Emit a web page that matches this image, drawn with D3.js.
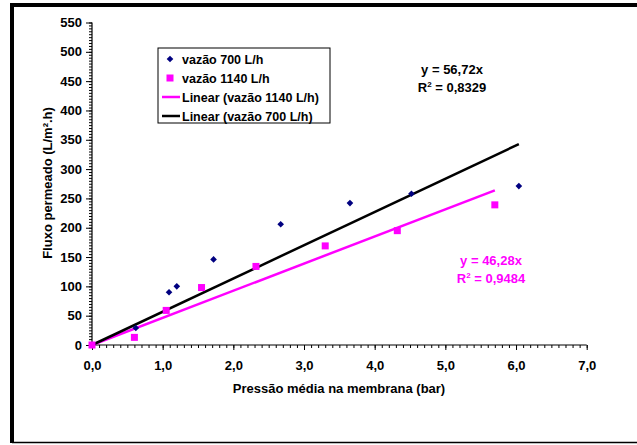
<!DOCTYPE html>
<html>
<head>
<meta charset="utf-8">
<script src="https://cdn.jsdelivr.net/npm/d3@7"></script>
<style>
  body { margin: 0; background: #fff; }
  svg { display: block; font-family: "Liberation Sans", Arial, sans-serif; font-weight: bold; }
  .axis path { display: none; }
  .axis text { font-size: 13px; font-weight: bold; fill: #000; }
</style>
</head>
<body>
<svg id="chart" width="637" height="445"></svg>
<script>
// data
var pressao700 = [0, 0.62, 1.09, 1.20, 1.72, 2.67, 3.65, 4.52, 6.04];
var fluxo700   = [0, 29, 90, 100, 146, 206, 242, 258, 271];
var pressao1140 = [0, 0.60, 1.05, 1.55, 2.32, 3.30, 4.32, 5.70];
var fluxo1140   = [0, 13, 59, 98, 134, 169, 195, 239];
var slope700 = 56.72, slope1140 = 46.28;
var xTicks = [0, 1, 2, 3, 4, 5, 6, 7];
var yTicks = [0, 50, 100, 150, 200, 250, 300, 350, 400, 450, 500, 550];
var legendLabels = ["vazão 700 L/h", "vazão 1140 L/h", "Linear (vazão 1140 L/h)", "Linear (vazão 700 L/h)"];

const pink = "#ff00ff", navy = "#000080";
const margin = {top: 22.5, left: 92},
      width = 494.7,
      height = 322.5;

let svg = d3.select("#chart");

// chart area border (left/top thick, bottom thin)
svg.append("line").attr("x1", 12).attr("x2", 12).attr("y1", 3).attr("y2", 443)
    .attr("stroke", "#000").attr("stroke-width", 4);
svg.append("line").attr("x1", 10).attr("x2", 637).attr("y1", 5).attr("y2", 5)
    .attr("stroke", "#000").attr("stroke-width", 4);
svg.append("line").attr("x1", 12).attr("x2", 637).attr("y1", 442.5).attr("y2", 442.5)
    .attr("stroke", "#000").attr("stroke-width", 1.5);

let g = svg.append("g").attr("transform", `translate(${margin.left}, ${margin.top})`);

var x = d3.scaleLinear().domain([0, 7]).range([0, width]);
var y = d3.scaleLinear().domain([0, 550]).range([height, 0]);

// minor ticks
g.append("g").attr("class", "axis")
    .attr("transform", `translate(0, ${height})`)
    .call(d3.axisBottom(x).tickValues(d3.range(0, 70.5).map(d => d / 10)).tickSize(3).tickFormat(""));
g.append("g").attr("class", "axis")
    .call(d3.axisLeft(y).tickValues(d3.range(0, 551, 5)).tickSize(3).tickFormat(""));

// major ticks
g.append("g").attr("class", "axis")
    .attr("transform", `translate(0, ${height})`)
    .call(d3.axisBottom(x).tickValues(xTicks).tickSize(5).tickPadding(11)
        .tickFormat(d => d3.format(".1f")(d).replace(".", ",")));
g.append("g").attr("class", "axis")
    .call(d3.axisLeft(y).tickValues(yTicks).tickSize(6).tickPadding(4).tickFormat(d3.format("d")));

// axis lines
g.append("line").attr("x1", 0).attr("x2", width).attr("y1", height).attr("y2", height)
    .attr("stroke", "#000").attr("stroke-width", 1.2);
g.append("line").attr("x1", 0).attr("x2", 0).attr("y1", 0).attr("y2", height)
    .attr("stroke", "#000").attr("stroke-width", 1.2);

// trend lines
g.append("line")
    .attr("x1", x(0)).attr("y1", y(0))
    .attr("x2", x(d3.max(pressao1140))).attr("y2", y(slope1140 * d3.max(pressao1140)))
    .attr("stroke", pink).attr("stroke-width", 2.5);
g.append("line")
    .attr("x1", x(0)).attr("y1", y(0))
    .attr("x2", x(d3.max(pressao700))).attr("y2", y(slope700 * d3.max(pressao700)))
    .attr("stroke", "#000").attr("stroke-width", 2.5);

// points
var diamond = d3.symbol().type(d3.symbolDiamond2).size(28);
g.selectAll(".p700")
    .data(pressao700.map((p, i) => [p, fluxo700[i]]))
    .enter().append("path")
    .attr("class", "p700")
    .attr("d", diamond)
    .attr("transform", d => `translate(${x(d[0])}, ${y(d[1])})`)
    .attr("fill", navy);

g.selectAll(".p1140")
    .data(pressao1140.map((p, i) => [p, fluxo1140[i]]))
    .enter().append("rect")
    .attr("class", "p1140")
    .attr("x", d => x(d[0]) - 3.5).attr("y", d => y(d[1]) - 3.5)
    .attr("width", 7).attr("height", 7)
    .attr("fill", pink);

// equations
svg.append("text").attr("x", 452).attr("y", 74).attr("text-anchor", "middle")
    .attr("font-size", 13).text("y = 56,72x");
svg.append("text").attr("x", 452).attr("y", 92).attr("text-anchor", "middle")
    .attr("font-size", 13)
    .html('R<tspan dy="-5" font-size="8">2</tspan><tspan dy="5"> = 0,8329</tspan>');
svg.append("text").attr("x", 491).attr("y", 265).attr("text-anchor", "middle")
    .attr("font-size", 13).attr("fill", pink).text("y = 46,28x");
svg.append("text").attr("x", 491).attr("y", 283).attr("text-anchor", "middle")
    .attr("font-size", 13).attr("fill", pink)
    .html('R<tspan dy="-5" font-size="8">2</tspan><tspan dy="5"> = 0,9484</tspan>');

// axis titles
svg.append("text").attr("x", 339).attr("y", 393).attr("text-anchor", "middle")
    .attr("font-size", 13).text("Pressão média na membrana (bar)");
svg.append("text").attr("transform", "translate(52, 183) rotate(-90)")
    .attr("text-anchor", "middle").attr("font-size", 13).text("Fluxo permeado (L/m².h)");

// legend
let leg = svg.append("g").attr("transform", "translate(158, 48)");
leg.append("rect").attr("x", 0).attr("y", 0).attr("width", 172).attr("height", 75)
    .attr("fill", "#fff").attr("stroke", "#000").attr("stroke-width", 1);
var rowY = [11, 30, 49, 68];
leg.append("path").attr("d", diamond).attr("transform", `translate(12, ${rowY[0]})`).attr("fill", navy);
leg.append("rect").attr("x", 8.5).attr("y", rowY[1] - 3.5).attr("width", 7).attr("height", 7).attr("fill", pink);
leg.append("line").attr("x1", 4).attr("x2", 22).attr("y1", rowY[2]).attr("y2", rowY[2])
    .attr("stroke", pink).attr("stroke-width", 2.5);
leg.append("line").attr("x1", 4).attr("x2", 22).attr("y1", rowY[3]).attr("y2", rowY[3])
    .attr("stroke", "#000").attr("stroke-width", 2.5);
leg.selectAll(".lt").data(legendLabels).enter().append("text")
    .attr("class", "lt")
    .attr("x", 24).attr("y", (d, i) => rowY[i] + 4.5)
    .attr("font-size", 12.5).text(d => d);
</script>
</body>
</html>
